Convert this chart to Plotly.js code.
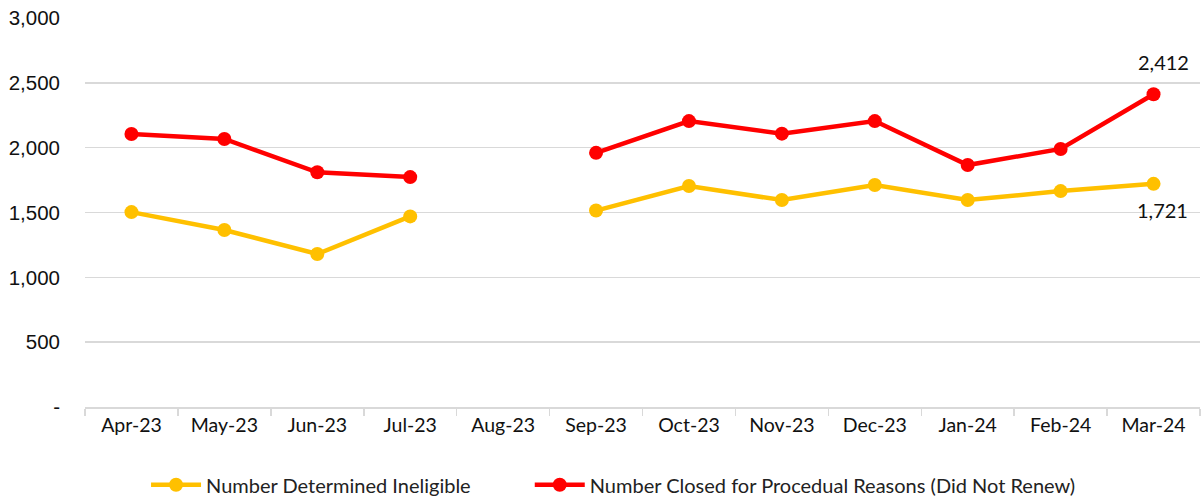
<!DOCTYPE html>
<html><head><meta charset="utf-8">
<script src="https://cdn.plot.ly/plotly-3.0.1.min.js"></script>
<style>html,body{margin:0;padding:0;background:#fff}#chart{width:1204px;height:500px}</style>
</head><body><div id="chart"></div>
<script>
const months = ["Apr-23","May-23","Jun-23","Jul-23","Aug-23","Sep-23","Oct-23","Nov-23","Dec-23","Jan-24","Feb-24","Mar-24"];
const ineligible = [1503,1365,1180,1470,null,1515,1704,1596,1712,1596,1665,1721];
const procedural = [2105,2067,1810,1773,null,1960,2205,2108,2205,1866,1990,2412];
const yTickVals = [0,500,1000,1500,2000,2500,3000];
const yTickText = ["-","500","1,000","1,500","2,000","2,500","3,000"];
const fmt = v => v.toLocaleString("en-US");
const last = months.length - 1;
const txtFont = "Lato, 'Noto Sans', sans-serif";

const traces = [
  {x: months, y: ineligible, name: "Number Determined Ineligible", type: "scatter", mode: "lines+markers",
   line: {color: "#FFC000", width: 4.5}, marker: {color: "#FFC000", size: 14}, connectgaps: false, legend: "legend"},
  {x: months, y: procedural, name: "Number Closed for Procedual Reasons (Did Not Renew)", type: "scatter", mode: "lines+markers",
   line: {color: "#FF0000", width: 4.5}, marker: {color: "#FF0000", size: 14}, connectgaps: false, legend: "legend2"}
];

const legFont = {family: txtFont, size: 20, color: "#222"};
const layout = {
  width: 1204, height: 500,
  margin: {l: 85, r: 4, t: 18, b: 93, autoexpand: false},
  paper_bgcolor: "#fff", plot_bgcolor: "#fff",
  showlegend: true,
  legend: {orientation: "h", xref: "container", x: 0.1213, xanchor: "left", y: -0.2, yanchor: "middle",
           font: legFont, itemwidth: 50},
  legend2: {orientation: "h", xref: "container", x: 0.44, xanchor: "left", y: -0.2, yanchor: "middle",
           font: legFont, itemwidth: 50},
  xaxis: {type: "category", showgrid: false, showline: true, linecolor: "#d9d9d9", linewidth: 1.5,
          ticks: "outside", tickson: "boundaries", ticklen: 7, tickcolor: "#d9d9d9", tickwidth: 1.5,
          tickfont: {family: txtFont, size: 19.5, color: "#111"},
          range: [-0.5, 11.5], fixedrange: true},
  yaxis: {range: [0, 3000], tickvals: yTickVals, ticktext: yTickText, showgrid: true, gridcolor: "#d9d9d9", gridwidth: 1.5,
          zeroline: false, showline: false, ticklabelstandoff: 24,
          tickfont: {family: "'Liberation Sans', Arial, sans-serif", size: 20.5, color: "#111"}},
  annotations: [
    {x: months[last], y: procedural[last], text: fmt(procedural[last]), showarrow: false, yshift: 32, xshift: 10,
     font: {family: txtFont, size: 20, color: "#111"}},
    {x: months[last], y: ineligible[last], text: fmt(ineligible[last]), showarrow: false, yshift: -26, xshift: 9,
     font: {family: txtFont, size: 20, color: "#111"}}
  ]
};
Plotly.newPlot("chart", traces, layout, {displayModeBar: false, staticPlot: true});
</script></body></html>
